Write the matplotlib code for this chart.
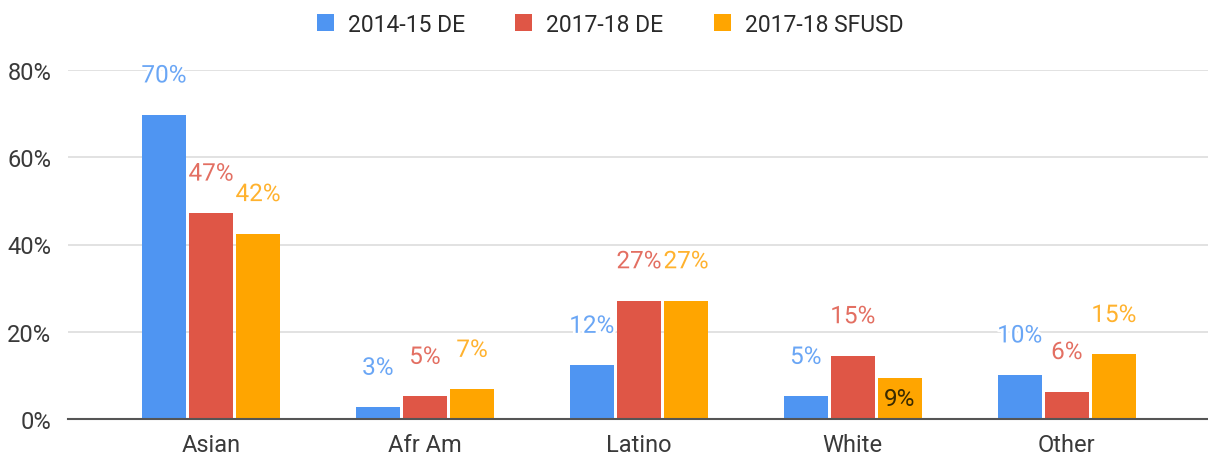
import numpy as np
import matplotlib
matplotlib.use("Agg")
import matplotlib.pyplot as plt
import matplotlib.patheffects as pe
from matplotlib.ticker import FuncFormatter

categories = ["Asian", "Afr Am", "Latino", "White", "Other"]
series_names = ["2014-15 DE", "2017-18 DE", "2017-18 SFUSD"]
de_1415 = [69.7, 2.7, 12.3, 5.2, 10.1]
de_1718 = [47.2, 5.2, 27.1, 14.5, 6.3]
sfusd_1718 = [42.5, 6.8, 27.1, 9.3, 14.8]
labels_1415 = ["70%", "3%", "12%", "5%", "10%"]
labels_de_1718 = ["47%", "5%", "27%", "15%", "6%"]
labels_sfusd = ["42%", "7%", "27%", "9%", "15%"]
y_ticks = [0, 20, 40, 60, 80]

bar_colors = ["#4F95F2", "#DF5646", "#FFA500"]
label_colors = ["#6AA6F5", "#E36F62", "#FFB22E"]

plt.rcParams['font.family'] = ['Roboto', 'DejaVu Sans']

fig = plt.figure(figsize=(12.08, 4.56), dpi=100)
ax = fig.add_axes([68 / 1208, 36 / 456, 1 - 68 / 1208, (420 - 71) / 456])

x = np.arange(len(categories))
width = 0.207
step = 0.22
all_values = [de_1415, de_1718, sfusd_1718]
all_labels = [labels_1415, labels_de_1718, labels_sfusd]

for i, (vals, labs) in enumerate(zip(all_values, all_labels)):
    xs = x + (i - 1) * step
    ax.bar(xs, vals, width=width, color=bar_colors[i], label=series_names[i],
           zorder=3)
    for xi, v, lab in zip(xs, vals, labs):
        if i == 2 and lab == "9%":
            # label drawn inside the bar
            ax.text(xi, v / 2, lab, ha='center', va='center', fontsize=17.5,
                    color='#3a2a00', zorder=5)
        else:
            ax.annotate(lab, (xi, v), xytext=(0, 39), textcoords='offset pixels',
                        ha='center', va='center', fontsize=17.5,
                        color=label_colors[i], zorder=5, annotation_clip=False,
                        path_effects=[pe.withStroke(linewidth=4, foreground='white')])

ax.set_xlim(-0.668, 4.66)
ax.set_ylim(0, 80)
ax.set_yticks(y_ticks)
ax.yaxis.set_major_formatter(FuncFormatter(lambda v, p: f"{v:.0f}%"))
ax.set_xticks(x)
ax.set_xticklabels(categories)
ax.tick_params(axis='both', length=0, labelsize=17, colors='#3a3a3a')
ax.tick_params(axis='y', pad=12)
ax.tick_params(axis='x', pad=10)
ax.grid(axis='y', color='#e2e2e2', linewidth=1.4, zorder=0)
for s in ['top', 'right', 'left']:
    ax.spines[s].set_visible(False)
ax.spines['bottom'].set_color('#555555')
ax.spines['bottom'].set_linewidth(1.5)
ax.spines['bottom'].set_zorder(4)

fig.legend(loc='center', bbox_to_anchor=(610 / 1208, 1 - 25 / 456), ncol=3,
           frameon=False, fontsize=16.5, handlelength=0.75, handleheight=0.75,
           handletextpad=0.6, columnspacing=2.2, labelcolor='#2a2a2a')

fig.savefig("out.png", dpi=100)
